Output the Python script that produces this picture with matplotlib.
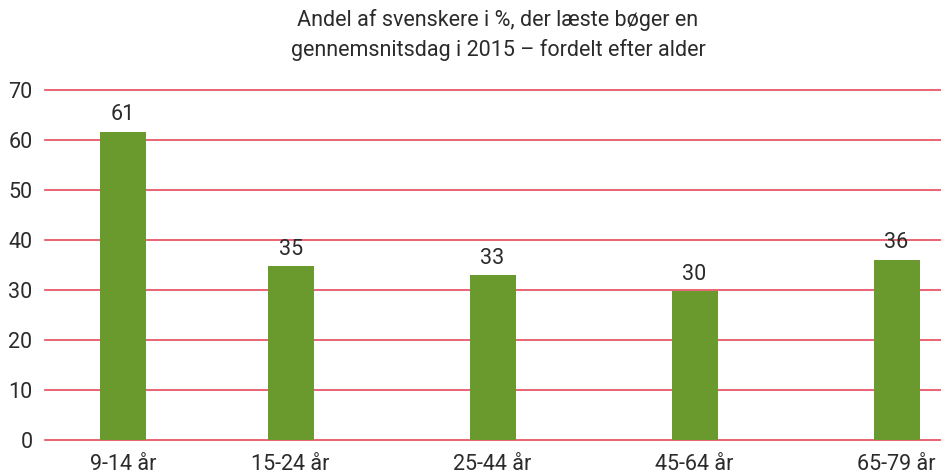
import matplotlib
matplotlib.use('Agg')
import matplotlib.pyplot as plt

# data
categories = ['9-14 år', '15-24 år', '25-44 år', '45-64 år', '65-79 år']
values = [61.6, 34.8, 33.0, 29.8, 36.0]
labels = ['61', '35', '33', '30', '36']
yticks = [0, 10, 20, 30, 40, 50, 60, 70]

title = 'Andel af svenskere i %, der læste bøger en\ngennemsnitsdag i 2015 \u2013 fordelt efter alder'

# layout (bar slots are not evenly spaced in the original)
xpos = [0, 0.83, 1.83, 2.83, 3.83]
bar_w = 0.228
green = '#6a992e'
grid_red = '#e64a5a'
txt = '#2b2b2b'

plt.rcParams['font.family'] = ['Roboto', 'DejaVu Sans']

fig = plt.figure(figsize=(9.41, 4.74), dpi=100)
ax = fig.add_axes([45 / 941, 34 / 474, 896 / 941, 350 / 474])

for y in yticks:
    ax.axhline(y, color=grid_red, lw=1.2, zorder=1, clip_on=False)

ax.bar(xpos, values, width=bar_w, color=green, zorder=2)
for x, v, l in zip(xpos, values, labels):
    ax.text(x, v + 1.3, l, ha='center', va='bottom', fontsize=15.5,
            color=txt)

ax.set_xlim(-0.386, 4.05)
ax.set_ylim(0, 70)
ax.set_xticks(xpos)
ax.set_xticklabels(categories, fontsize=15.5, color=txt)
ax.set_yticks(yticks)
ax.set_yticklabels([str(t) for t in yticks], fontsize=15.5, color=txt)
ax.tick_params(length=0, pad=9)
ax.tick_params(axis='x', pad=10)
for s in ax.spines.values():
    s.set_visible(False)

fig.text(498 / 941, 1 - 35 / 474, title, ha='center', va='center',
         fontsize=15.5, color=txt, linespacing=1.45)

fig.savefig('out.png', dpi=100)
